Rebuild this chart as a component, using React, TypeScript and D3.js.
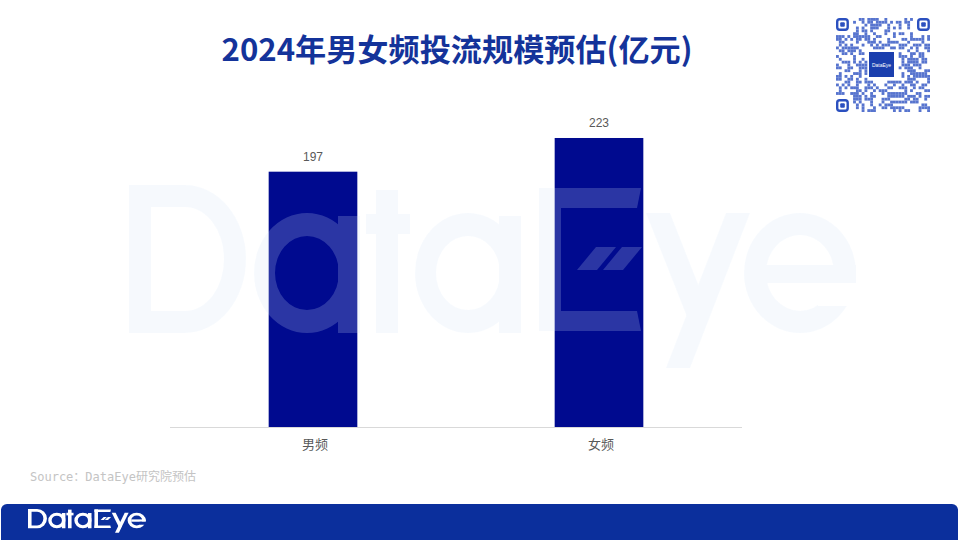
import React from 'react';
import * as d3 from 'd3';

const categories = ['男频', '女频'];
const values = [197, 223];
const titleText = '2024年男女频投流规模预估(亿元)';
const sourceText = 'Source：DataEye研究院预估';
const yDomain = [0, 250];

const BAR = '#000a8f';
const CJK = '"Liberation Sans", "Noto Sans CJK SC", sans-serif';

function hash(i: number, j: number) {
  let h = Math.imul(i + 1, 374761393) + Math.imul(j + 7, 668265263);
  h = Math.imul(h ^ (h >>> 13), 1274126177);
  h ^= h >>> 16;
  return h & 1;
}

function Logo({ fill }: { fill: string }) {
  const ring = (cx: number, cy: number, rx: number, ry: number, irx: number, iry: number) =>
    `M${cx - rx},${cy} A${rx},${ry} 0 1 0 ${cx + rx},${cy} A${rx},${ry} 0 1 0 ${cx - rx},${cy} Z ` +
    `M${cx - irx},${cy} A${irx},${iry} 0 1 0 ${cx + irx},${cy} A${irx},${iry} 0 1 0 ${cx - irx},${cy} Z`;
  const aGlyph = (x0: number) => (
    <g>
      <path fillRule="evenodd" d={ring(x0 + 53, 273, 53, 60, 32, 37)} />
      <rect x={x0 + 84} y={216} width={22} height={117} />
    </g>
  );
  return (
    <g fill={fill}>
      <path fillRule="evenodd" d="M129,185 H185 A61,74 0 0 1 185,333 H129 Z M151,207 H185 A39,52 0 0 1 185,311 H151 Z" />
      {aGlyph(254)}
      <rect x={376} y={190} width={22} height={143} />
      <rect x={366} y={214} width={44} height={20} />
      {aGlyph(415)}
      <rect x={539} y={188} width={22} height={143} />
      <polygon points="539,188 641,188 637,208 539,208" />
      <polygon points="539,311 637,311 641,331 539,331" />
      <polygon points="596,247 616,247 597,270 577,270" />
      <polygon points="622,247 642,247 623,270 603,270" />
      <polygon points="646,213 670,213 709,312 697,342" />
      <polygon points="726,213 750,213 690,368 666,368" />
      <g mask="url(#eMask)">
        <path fillRule="evenodd" d={ring(800, 273, 56, 60, 34, 38)} />
        <rect x={766} y={265} width={90} height={18} />
      </g>
    </g>
  );
}

function QR() {
  const x0 = 836, y0 = 18, size = 94, n = 33;
  const m = size / n;
  const cells: JSX.Element[] = [];
  for (let i = 0; i < n; i++) {
    for (let j = 0; j < n; j++) {
      const inTL = i < 6 && j < 6;
      const inTR = i > n - 7 && j < 6;
      const inBL = i < 6 && j > n - 7;
      const inC = i >= 11 && i <= 21 && j >= 11 && j <= 21;
      if (inTL || inTR || inBL || inC) continue;
      if (hash(i, j)) {
        cells.push(<rect key={i + '-' + j} x={x0 + i * m} y={y0 + j * m} width={m} height={m} />);
      }
    }
  }
  const finder = (fx: number, fy: number) => (
    <g key={fx + ',' + fy}>
      <rect x={fx + 1.2} y={fy + 1.2} width={10.5} height={10.5} rx={2.5} fill="none" stroke="#2b50bf" strokeWidth={2.4} />
      <rect x={fx + 4.2} y={fy + 4.2} width={4.6} height={4.6} rx={1} fill="#2b50bf" />
    </g>
  );
  return (
    <g>
      <g fill="#3a5cc6" opacity={0.85}>{cells}</g>
      {finder(836, 18)}
      {finder(917, 18)}
      {finder(836, 99)}
      <rect x={869} y={52} width={25} height={25} fill="#1b3fae" />
      <text x={881.5} y={66.5} textAnchor="middle" fontSize={5} fill="#fff" fontFamily="Liberation Sans">DataEye</text>
    </g>
  );
}

export default function App() {
  const W = 960, H = 540;
  const x = d3.scaleBand<string>().domain(categories).range([170, 742]).paddingInner(0.69).paddingOuter(0.345);
  const y = d3.scaleLinear().domain(yDomain).range([427, 103]);
  const data = categories.map((c, i) => ({ c, v: values[i] }));

  return (
    <svg width={W} height={H} viewBox={`0 0 ${W} ${H}`} style={{ position: 'absolute', left: 0, top: 0, background: '#fff' }}>
      <defs>
        <mask id="eMask" maskUnits="userSpaceOnUse" x={0} y={0} width={1000} height={600}>
          <rect x={0} y={0} width={1000} height={600} fill="#fff" />
          <polygon points="818,283 870,283 870,306 818,306" fill="#000" />
        </mask>
      </defs>
      <rect x={0} y={0} width={W} height={H} fill="#fff" />
      <text x={457} y={61} textAnchor="middle" fontSize={31} fontWeight="bold" fill="#14339a" fontFamily='"Noto Sans CJK SC", sans-serif' textLength={471} lengthAdjust="spacingAndGlyphs">{titleText}</text>
      <QR />
      {data.map(d => (
        <rect key={d.c} x={x(d.c)} y={y(d.v)} width={x.bandwidth()} height={y(0) - y(d.v)} fill={BAR} />
      ))}
      <g opacity={0.2}>
        <Logo fill="#d6e6f8" />
      </g>
      <line x1={170} x2={742} y1={427.5} y2={427.5} stroke="#d9d9d9" strokeWidth={1} />
      {data.map(d => (
        <text key={'v' + d.c} x={(x(d.c) as number) + x.bandwidth() / 2} y={y(d.v) - 11} textAnchor="middle" fontSize={12} fill="#595959" fontFamily={CJK}>{d.v}</text>
      ))}
      {data.map(d => (
        <text key={'c' + d.c} x={(x(d.c) as number) + x.bandwidth() / 2 + 2} y={449} textAnchor="middle" fontSize={13} fill="#595959" fontFamily={CJK}>{d.c}</text>
      ))}
      <text x={30} y={481} fontSize={12} fill="#c4c4c4" fontFamily='"DejaVu Sans Mono", "Noto Sans CJK SC", monospace'>{sourceText}</text>
      <rect x={1} y={504} width={957} height={50} rx={6} fill="#0b2f9c" />
      <g transform="translate(28,509) scale(0.162,0.13) translate(-129,-185)">
        <Logo fill="#fff" />
      </g>
    </svg>
  );
}
